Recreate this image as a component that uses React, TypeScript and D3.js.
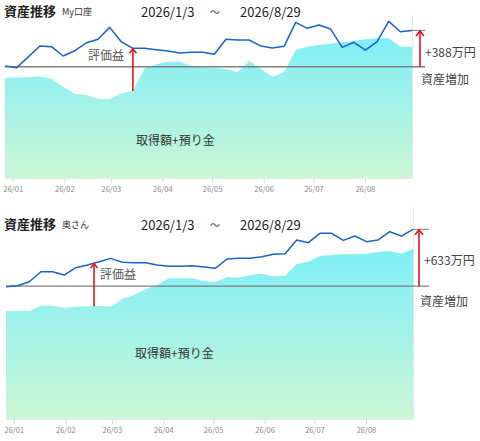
import React from 'react';
import * as d3 from 'd3';

// ---- data ----
const dates = [
  '2025-12-27', '2026-01-03', '2026-01-10', '2026-01-17', '2026-01-24', '2026-01-31',
  '2026-02-07', '2026-02-14', '2026-02-21', '2026-02-28', '2026-03-07', '2026-03-14',
  '2026-03-21', '2026-03-28', '2026-04-04', '2026-04-11', '2026-04-18', '2026-04-25',
  '2026-05-02', '2026-05-09', '2026-05-16', '2026-05-23', '2026-05-30', '2026-06-06',
  '2026-06-13', '2026-06-20', '2026-06-27', '2026-07-04', '2026-07-11', '2026-07-18',
  '2026-07-25', '2026-08-01', '2026-08-08', '2026-08-15', '2026-08-22', '2026-08-29',
];

// My口座 : 評価額 (line) and 取得額+預り金 (area), 万円
const myTotal = [
  1195, 1176, 1292, 1407, 1400, 1301, 1357, 1442, 1479, 1606, 1453, 1383,
  1383, 1368, 1354, 1333, 1340, 1340, 1319, 1479, 1471, 1471, 1407, 1386,
  1404, 1660, 1596, 1631, 1588, 1393, 1447, 1364, 1453, 1670, 1560, 1574,
];
const myCost = [
  1069, 1071, 1073, 1084, 1055, 973, 899, 885, 842, 839, 903, 927,
  1169, 1212, 1240, 1240, 1197, 1178, 1173, 1162, 1127, 1247, 1162, 1080,
  1127, 1364, 1400, 1418, 1432, 1447, 1460, 1479, 1489, 1489, 1400, 1400,
];
// 奥さん
const wifeTotal = [
  1476, 1488, 1532, 1644, 1644, 1607, 1689, 1719, 1755, 1793, 1749, 1744,
  1744, 1719, 1704, 1704, 1711, 1696, 1682, 1786, 1793, 1793, 1811, 1838,
  1845, 1998, 1968, 2072, 2072, 1994, 2042, 1979, 1998, 2090, 2042, 2117,
];
const wifeCost = [
  1205, 1205, 1205, 1264, 1264, 1242, 1253, 1258, 1261, 1253, 1339, 1384,
  1447, 1495, 1570, 1570, 1570, 1540, 1526, 1585, 1577, 1607, 1622, 1593,
  1596, 1730, 1755, 1819, 1830, 1838, 1838, 1845, 1864, 1875, 1845, 1897,
];

const monthTicks = [
  '2026-01-01', '2026-02-01', '2026-03-01', '2026-04-01',
  '2026-05-01', '2026-06-01', '2026-07-01', '2026-08-01',
];
const accounts = ['My口座', '奥さん'];
const increases = [388, 633];
const gainDates = ['2026-03-14', '2026-02-18'];
const periodStart = '2026/1/3';
const periodEnd = '2026/8/29';

const FONT = "'Noto Sans CJK JP', 'Noto Sans', sans-serif";
const parse = d3.utcParse('%Y-%m-%d');
const fmt = d3.utcFormat('%y/%m');

type Cfg = {
  oy: number;
  x0: number; x1: number;
  top: number; bottom: number; edgeTop: number;
  yMax: number;
  total: number[]; cost: number[];
  account: string; increase: number; gainDate: string;
  gainSide: 'left' | 'right'; gainDy: number;
  arrowX: number; incDy: number; incX: number; baseX: number; baseDy: number;
  costLabelX: number; costLabelY: number; gid: string;
};

function interp(ds: Date[], vals: number[], d: Date) {
  const i = d3.bisector((x: Date) => x).right(ds, d);
  if (i <= 0) return vals[0];
  if (i >= ds.length) return vals[vals.length - 1];
  const t = (+d - +ds[i - 1]) / (+ds[i] - +ds[i - 1]);
  return vals[i - 1] + t * (vals[i] - vals[i - 1]);
}

function Chart({ c }: { c: Cfg }) {
  const ds = dates.map((d) => parse(d) as Date);
  const x = d3.scaleUtc().domain([ds[0], ds[ds.length - 1]]).range([c.x0, c.x1]);
  const y = d3.scaleLinear().domain([0, c.yMax]).range([c.bottom, c.top]);
  const idx = d3.range(ds.length);
  const area = d3.area<number>().x((i) => x(ds[i])).y0(c.bottom).y1((i) => y(c.cost[i]))(idx) || '';
  const line = d3.line<number>().x((i) => x(ds[i])).y((i) => y(c.total[i]))(idx) || '';
  const last = c.total[c.total.length - 1];
  const base = last - c.increase;
  const yb = y(base);
  const yl = y(last);
  const gd = parse(c.gainDate) as Date;
  const gx = x(gd);
  const gTop = y(interp(ds, c.total, gd));
  const gBot = y(interp(ds, c.cost, gd));
  const red = '#e8141e';
  const oy = c.oy;
  return (
    <g>
      <defs>
        <linearGradient id={c.gid} gradientUnits="userSpaceOnUse" x1="0" y1={c.top} x2="0" y2={c.bottom}>
          <stop offset="0" stopColor="#74eefb" />
          <stop offset="0.5" stopColor="#9ff1ea" />
          <stop offset="1" stopColor="#cbf7d4" />
        </linearGradient>
      </defs>
      {/* header */}
      <text x={4} y={oy + 10} dominantBaseline="central" fontSize={13} fontWeight="bold" fill="#222" fontFamily={FONT}>資産推移</text>
      <text x={62} y={oy + 11} dominantBaseline="central" fontSize={9} fill="#333" fontFamily={FONT}>{c.account}</text>
      <text x={141} y={oy + 11} dominantBaseline="central" fontSize={13} fill="#222" fontFamily={FONT}>{periodStart}</text>
      <text x={210} y={oy + 11} dominantBaseline="central" fontSize={10} fill="#444" fontFamily={FONT}>～</text>
      <text x={240} y={oy + 11} dominantBaseline="central" fontSize={13} fill="#222" fontFamily={FONT}>{periodEnd}</text>

      {/* area */}
      <path d={area} fill={`url(#${c.gid})`} />
      {/* right edge & axis */}
      <line x1={c.x1 + 0.5} x2={c.x1 + 0.5} y1={c.edgeTop} y2={c.bottom} stroke="#e2e5f2" strokeWidth={1} />
      <line x1={c.x0} x2={c.x1} y1={c.bottom + 0.5} y2={c.bottom + 0.5} stroke="#e2e7f0" strokeWidth={1} />
      {monthTicks.map((t) => {
        const tx = x(parse(t) as Date);
        return (
          <g key={t}>
            <line x1={tx} x2={tx} y1={c.bottom} y2={c.bottom + 5} stroke="#d6dce8" strokeWidth={1} />
            <text x={tx} y={c.bottom + 10} textAnchor="middle" dominantBaseline="central" fontSize={7.5} fill="#8a8a8a" fontFamily={FONT}>
              {fmt(parse(t) as Date)}
            </text>
          </g>
        );
      })}
      {/* baseline */}
      <line x1={c.x0} x2={c.baseX} y1={yb} y2={yb} stroke="#7f7f7f" strokeWidth={1.3} />
      <line x1={x(ds[ds.length - 1])} x2={c.baseX} y1={yl} y2={yl} stroke="#7f7f7f" strokeWidth={1} />
      {/* total line */}
      <path d={line} fill="none" stroke="#1864c9" strokeWidth={1.5} strokeLinejoin="round" />
      {/* gain arrow */}
      <line x1={gx} x2={gx} y1={gBot} y2={gTop + 1} stroke={red} strokeWidth={1.6} />
      <path d={`M${gx - 3.5},${gTop + 5} L${gx},${gTop + 0.5} L${gx + 3.5},${gTop + 5}`} fill="none" stroke={red} strokeWidth={1.6} />
      <text x={c.gainSide === 'left' ? gx - 9 : gx + 6} y={gTop + c.gainDy} textAnchor={c.gainSide === 'left' ? 'end' : 'start'}
        dominantBaseline="central" fontSize={12} fill="#555" fontFamily={FONT}>評価益</text>
      {/* increase arrow */}
      <line x1={c.arrowX} x2={c.arrowX} y1={yb} y2={yl + 1} stroke={red} strokeWidth={1.6} />
      <path d={`M${c.arrowX - 4},${yl + 5.5} L${c.arrowX},${yl + 0.5} L${c.arrowX + 4},${yl + 5.5}`} fill="none" stroke={red} strokeWidth={1.6} />
      <text x={c.incX} y={(yb + yl) / 2 + c.incDy} dominantBaseline="central" fontSize={12} fill="#444" fontFamily={FONT}>
        {`+${c.increase}万円`}
      </text>
      <text x={c.arrowX + 1} y={yb + c.baseDy} dominantBaseline="central" fontSize={12} fill="#444" fontFamily={FONT}>資産増加</text>
      <text x={c.costLabelX} y={c.costLabelY} dominantBaseline="central" fontSize={12} fill="#333" fontFamily={FONT}>取得額+預り金</text>
    </g>
  );
}

export default function App() {
  const cfgs: Cfg[] = [
    {
      oy: 0, x0: 5, x1: 412, top: 15, bottom: 178, edgeTop: 15, yMax: 1738,
      total: myTotal, cost: myCost, account: accounts[0], increase: increases[0], gainDate: gainDates[0],
      gainSide: 'left', gainDy: 6, arrowX: 420, incDy: 2.5, incX: 425, baseX: 425, baseDy: 11.5,
      costLabelX: 136, costLabelY: 139.5, gid: 'g1',
    },
    {
      oy: 213, x0: 6, x1: 413, top: 226, bottom: 419, edgeTop: 207, yMax: 2154,
      total: wifeTotal, cost: wifeCost, account: accounts[1], increase: increases[1], gainDate: gainDates[1],
      gainSide: 'right', gainDy: 10, arrowX: 419, incDy: 1.5, incX: 424, baseX: 429, baseDy: 14,
      costLabelX: 135, costLabelY: 352, gid: 'g2',
    },
  ];
  return (
    <svg width={480} height={441} style={{ position: 'absolute', left: 0, top: 0, background: '#fff' }}>
      <rect width={480} height={441} fill="#fff" />
      {cfgs.map((c) => <Chart key={c.gid} c={c} />)}
    </svg>
  );
}
